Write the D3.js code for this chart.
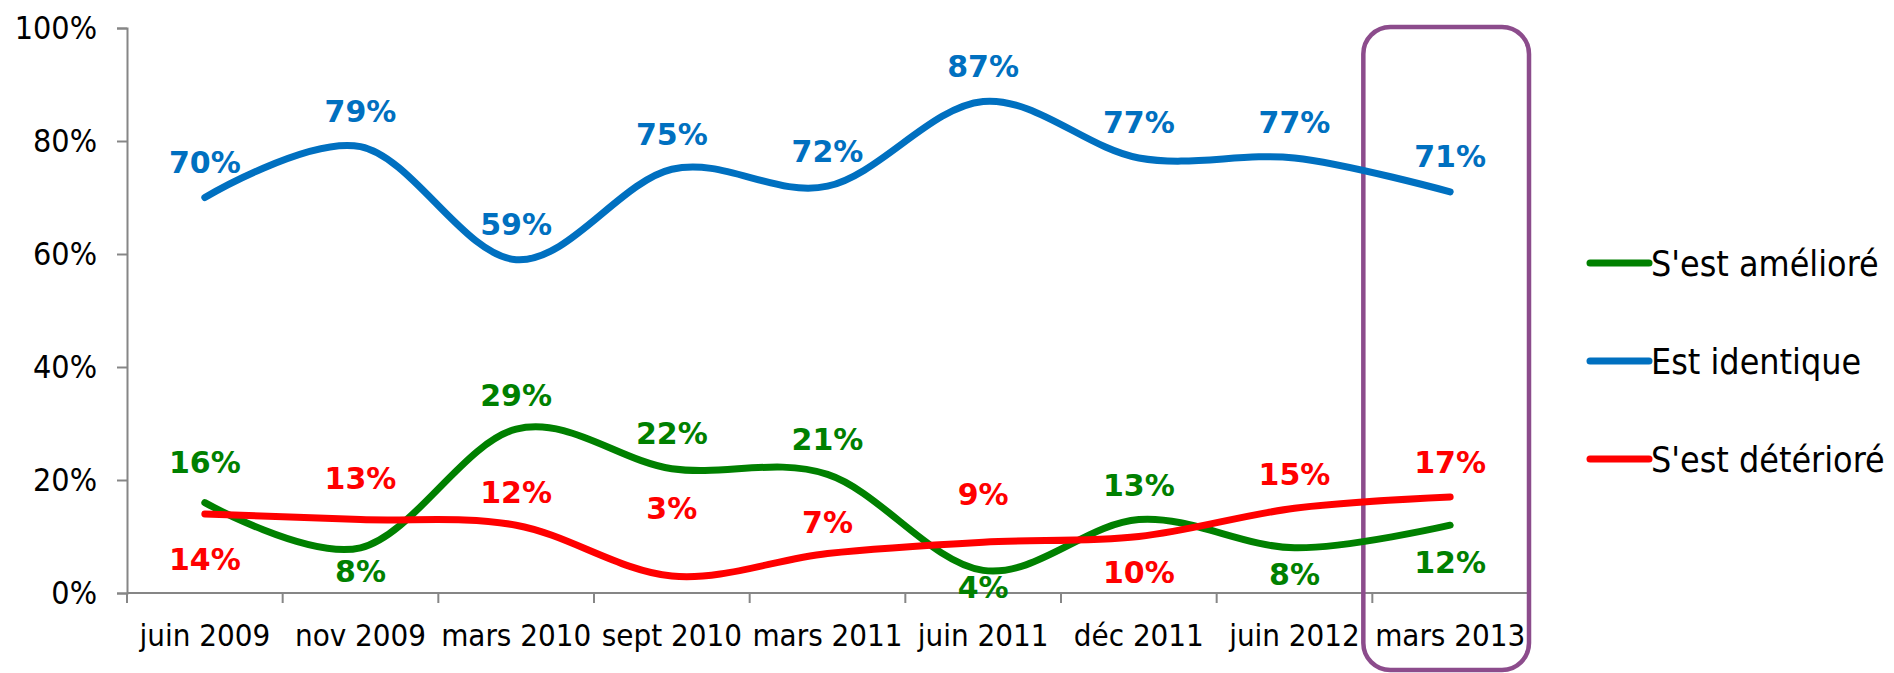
<!DOCTYPE html>
<html>
<head>
<meta charset="utf-8">
<script src="https://cdn.jsdelivr.net/npm/d3@7"></script>
<style>
  body { margin: 0; background: #fff; }
  text { font-family: "DejaVu Sans Condensed", "DejaVu Sans", sans-serif; }
</style>
</head>
<body>
<script>
const categories = ["juin 2009", "nov 2009", "mars 2010", "sept 2010", "mars 2011",
  "juin 2011", "déc 2011", "juin 2012", "mars 2013"];
const ameliore = [16, 8, 29, 22, 21, 4, 13, 8, 12];
const identique = [70, 79, 59, 75, 72, 87, 77, 77, 71];
const deteriore = [14, 13, 12, 3, 7, 9, 10, 15, 17];
const yTicks = [0, 20, 40, 60, 80, 100];

// label nudges (px from the point), negative = above
const amelioreDy = [-40, 24, -34, -35, -35, 17, -34, 27, 37];
const identiqueDy = [-35, -35, -35, -35, -35, -35, -35, -35, -35];
const deterioreDy = [46, -41, -33, -68, -31, -48, 36, -34, -34];

const series = [
  { name: "S'est amélioré", values: ameliore, dy: amelioreDy, color: "#008000" },
  { name: "Est identique", values: identique, dy: identiqueDy, color: "#0070C0" },
  { name: "S'est détérioré", values: deteriore, dy: deterioreDy, color: "#FF0000" }
];

const width = 1894, height = 673;
const plotLeft = 127, plotRight = 1528, plotTop = 28, plotBottom = 593;

const svg = d3.select("body").append("svg")
  .attr("width", width)
  .attr("height", height);

const x = d3.scaleBand().domain(categories).range([plotLeft, plotRight]);
const y = d3.scaleLinear().domain([0, 100]).range([plotBottom, plotTop]);
const cx = d => x(d) + x.bandwidth() / 2;

// y axis
const yAxis = svg.append("g")
  .attr("transform", `translate(${plotLeft},0)`)
  .call(d3.axisLeft(y).tickValues(yTicks).tickSize(10).tickPadding(20).tickFormat(d => d + "%"));
yAxis.select(".domain").attr("stroke", "#868686").attr("stroke-width", 2);
yAxis.selectAll(".tick line").attr("stroke", "#868686").attr("stroke-width", 2);
yAxis.selectAll(".tick text")
  .attr("font-size", 32)
  .attr("fill", "#000")
  .style("font-family", "'DejaVu Sans Condensed', 'DejaVu Sans', sans-serif");

// x axis with ticks at band boundaries
const xg = svg.append("g");
xg.append("line")
  .attr("x1", plotLeft).attr("x2", plotRight)
  .attr("y1", plotBottom).attr("y2", plotBottom)
  .attr("stroke", "#868686").attr("stroke-width", 2);
const bounds = categories.map(c => x(c)).concat([plotRight]);
xg.selectAll("line.tick").data(bounds).join("line")
  .attr("class", "tick")
  .attr("x1", d => d).attr("x2", d => d)
  .attr("y1", plotBottom).attr("y2", plotBottom + 10)
  .attr("stroke", "#868686").attr("stroke-width", 2);
xg.selectAll("text").data(categories).join("text")
  .attr("x", d => cx(d))
  .attr("y", plotBottom + 53)
  .attr("text-anchor", "middle")
  .attr("font-size", 31)
  .attr("fill", "#000")
  .text(d => d);

// highlight box around the last period
const last = categories[categories.length - 1];
svg.append("rect")
  .attr("x", x(last) - 9)
  .attr("y", 27)
  .attr("width", x.bandwidth() + 10)
  .attr("height", 643)
  .attr("rx", 27)
  .attr("fill", "none")
  .attr("stroke", "#8C4C8C")
  .attr("stroke-width", 4.5);

// lines
const line = d3.line()
  .x((d, i) => cx(categories[i]))
  .y(d => y(d))
  .curve(d3.curveCatmullRom.alpha(0));

svg.selectAll("path.series").data(series).join("path")
  .attr("class", "series")
  .attr("d", s => line(s.values))
  .attr("fill", "none")
  .attr("stroke", s => s.color)
  .attr("stroke-width", 7)
  .attr("stroke-linecap", "round");

// data labels
series.forEach(s => {
  svg.append("g").selectAll("text").data(s.values).join("text")
    .attr("x", (d, i) => cx(categories[i]))
    .attr("y", (d, i) => y(d) + s.dy[i])
    .attr("text-anchor", "middle")
    .attr("dominant-baseline", "central")
    .attr("font-size", 30)
    .attr("font-weight", "bold")
    .attr("fill", s.color)
    .style("font-family", "'DejaVu Sans', sans-serif")
    .text(d => d + "%");
});

// legend
const legend = svg.append("g").selectAll("g").data(series).join("g")
  .attr("transform", (d, i) => `translate(1590,${263 + i * 98})`);
legend.append("line")
  .attr("x1", 0).attr("x2", 59)
  .attr("stroke", d => d.color)
  .attr("stroke-width", 7)
  .attr("stroke-linecap", "round");
legend.append("text")
  .attr("x", 61)
  .attr("dominant-baseline", "central")
  .attr("font-size", 35.5)
  .attr("fill", "#000")
  .text(d => d.name);
</script>
</body>
</html>
